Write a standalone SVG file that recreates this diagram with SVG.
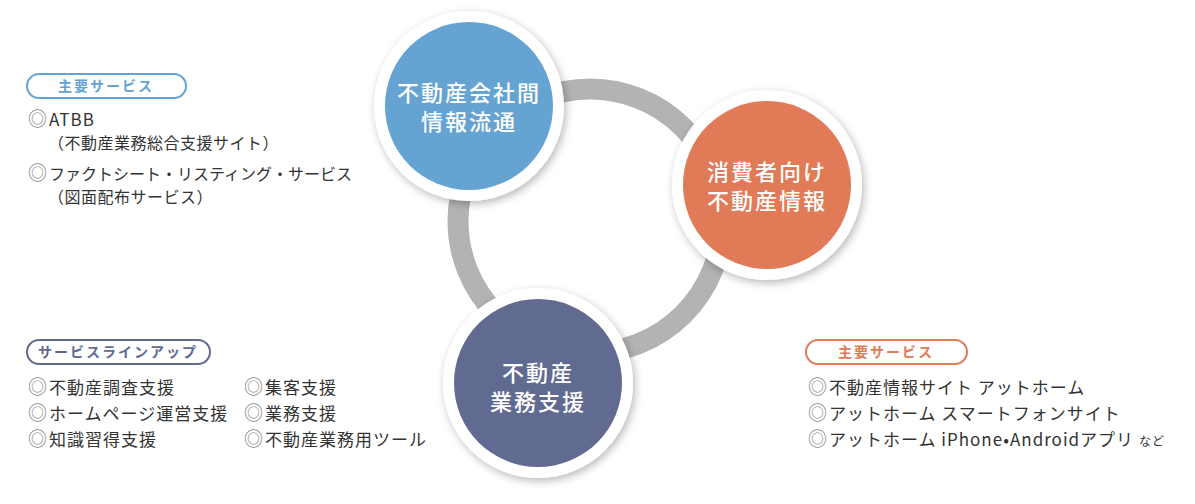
<svg xmlns="http://www.w3.org/2000/svg" width="1195" height="504" viewBox="0 0 1195 504">
<defs>
<style>
text{font-family:"Noto Sans CJK JP","Noto Sans",sans-serif}
.t{font-size:17px;fill:#333;letter-spacing:1px}
.s{font-size:16px;letter-spacing:0.5px}
.m{fill:#888;font-size:19px;letter-spacing:2px}
.w{font-size:22px;fill:#fff;text-anchor:middle;letter-spacing:2px;font-weight:500}
.pill{fill:#fff;stroke-width:2}
.pt{font-size:14px;font-weight:bold;text-anchor:middle;letter-spacing:2px}
.ring{fill:#fff}
</style>
<filter id="sh" x="-20%" y="-20%" width="140%" height="140%"><feDropShadow dx="2" dy="3" stdDeviation="4" flood-color="#000" flood-opacity="0.28"/></filter>
</defs>
<rect width="1195" height="504" fill="#fff"/>
<g id="connectors">
<circle cx="590" cy="221" r="132" fill="none" stroke="#b3b3b3" stroke-width="21"/>
</g>
<g id="node-blue">
<circle class="ring" cx="469" cy="106" r="95" filter="url(#sh)"/>
<circle cx="469" cy="106" r="84" fill="#65a3d3"/>
<text class="w" x="469" y="101">不動産会社間</text>
<text class="w" x="469" y="130">情報流通</text>
</g>
<g id="node-orange">
<circle class="ring" cx="767" cy="185" r="95" filter="url(#sh)"/>
<circle cx="767" cy="185" r="84" fill="#e07a57"/>
<text class="w" x="767" y="180">消費者向け</text>
<text class="w" x="767" y="209">不動産情報</text>
</g>
<g id="node-navy">
<circle class="ring" cx="538" cy="383" r="95" filter="url(#sh)"/>
<circle cx="538" cy="383" r="84" fill="#616a91"/>
<text class="w" x="538" y="381">不動産</text>
<text class="w" x="538" y="410">業務支援</text>
</g>
<g id="services-left">
<rect class="pill" x="27" y="74" width="159" height="24" rx="12" stroke="#65a3d3"/>
<text class="pt" x="106" y="91" fill="#65a3d3">主要サービス</text>
<text class="t" x="28" y="126"><tspan class="m">◎</tspan>ATBB</text>
<text class="t s" x="48" y="149">（不動産業務総合支援サイト）</text>
<text class="t" x="28" y="180" style="font-size:16px;letter-spacing:0"><tspan class="m">◎</tspan>ファクトシート・リスティング・サービス</text>
<text class="t s" x="48" y="203">（図面配布サービス）</text>
</g>
<g id="lineup">
<rect class="pill" x="27" y="340" width="183" height="24" rx="12" stroke="#616a91"/>
<text class="pt" x="118" y="357" fill="#616a91">サービスラインアップ</text>
<text class="t" x="28" y="394"><tspan class="m">◎</tspan>不動産調査支援</text>
<text class="t" x="28" y="420"><tspan class="m">◎</tspan>ホームページ運営支援</text>
<text class="t" x="28" y="446"><tspan class="m">◎</tspan>知識習得支援</text>
<text class="t" x="244" y="394"><tspan class="m">◎</tspan>集客支援</text>
<text class="t" x="244" y="420"><tspan class="m">◎</tspan>業務支援</text>
<text class="t" x="244" y="446"><tspan class="m">◎</tspan>不動産業務用ツール</text>
</g>
<g id="services-right">
<rect class="pill" x="806" y="340" width="161" height="24" rx="12" stroke="#e07a57"/>
<text class="pt" x="886" y="357" fill="#e07a57">主要サービス</text>
<text class="t" x="808" y="394"><tspan class="m">◎</tspan>不動産情報サイト アットホーム</text>
<text class="t" x="808" y="420"><tspan class="m">◎</tspan>アットホーム スマートフォンサイト</text>
<text class="t" x="808" y="446"><tspan class="m">◎</tspan>アットホーム iPhone•Androidアプリ <tspan font-size="12">など</tspan></text>
</g>
</svg>
